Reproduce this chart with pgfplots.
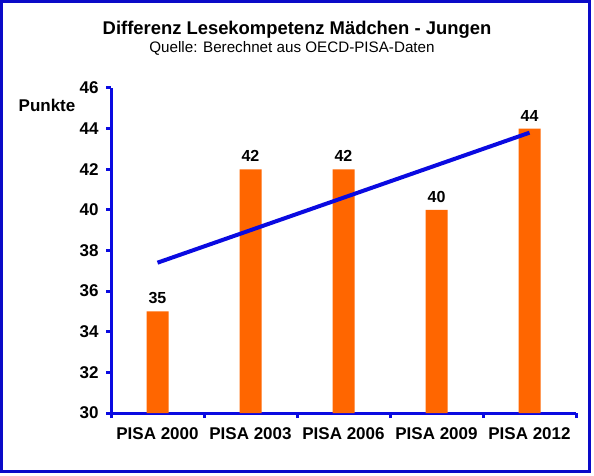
\documentclass[border=0pt]{standalone}
\usepackage{fontspec}
\setmainfont{Liberation Sans}
\usepackage{pgfplots}
\pgfplotsset{compat=1.18}
\definecolor{axblue}{RGB}{10,10,225}
\definecolor{frameblue}{RGB}{10,10,200}
\definecolor{barorange}{RGB}{255,102,0}
\begin{document}
\begin{tikzpicture}[x=1pt,y=1pt]
  % page and outer frame
  \path[fill=white] (0,0) rectangle (594,475);
  \draw[line width=3pt, frameblue] (1.5,4) rectangle (589.5,473.5);
  % titles
  \node[anchor=base, font=\fontsize{18.4}{20}\selectfont\bfseries] at (297,440) {Differenz Lesekompetenz Mädchen - Jungen};
  \node[anchor=base, font=\fontsize{15.2}{17}\selectfont] at (292,422) {Quelle: Berechnet aus OECD-PISA-Daten};
  \node[anchor=base, font=\fontsize{17}{19}\selectfont\bfseries] at (47,363) {Punkte};
\begin{axis}[
    at={(111pt,62pt)}, anchor=south west,
    scale only axis,
    width=465pt, height=325pt,
    xmin=-0.5, xmax=4.5,
    ymin=30, ymax=46,
    ytick={30,32,...,46},
    xtick={0,1,2,3,4},
    xticklabels={PISA 2000,PISA 2003,PISA 2006,PISA 2009,PISA 2012},
    minor xtick={-0.5,0.5,1.5,2.5,3.5,4.5},
    axis x line*=bottom,
    axis y line*=left,
    axis line style={-, line width=3pt, axblue},
    tick align=outside,
    major tick length=5pt,
    minor tick length=5pt,
    tick style={line width=3pt, axblue},
    major x tick style={draw=none},
    /pgf/number format/assume math mode=true,
    ticklabel style={font=\fontsize{17}{19}\selectfont\bfseries},
    yticklabel style={xshift=-4pt},
    xticklabel style={yshift=-6pt},
    clip=false,
]
  \addplot[ybar, bar width=22pt, bar shift=0pt, fill=barorange, draw=none,
    nodes near coords,
    every node near coord/.append style={font=\fontsize{16}{18}\selectfont\bfseries, black, yshift=4pt}]
    coordinates {(0,35)(1,42)(2,42)(3,40)(4,44)};
  \addplot[axblue, line width=4pt] coordinates {(0,37.4)(4,43.8)};
\end{axis}
\end{tikzpicture}
\end{document}
